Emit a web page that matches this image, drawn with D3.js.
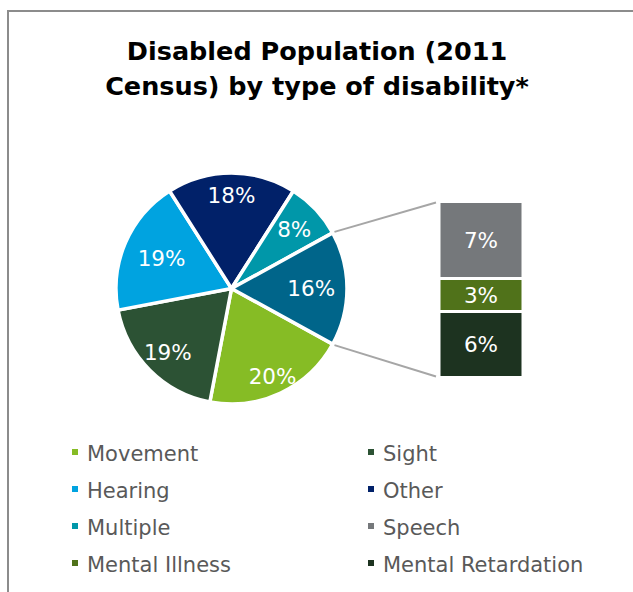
<!DOCTYPE html>
<html>
<head>
<meta charset="utf-8">
<script src="https://cdn.jsdelivr.net/npm/d3@7"></script>
<style>
  html, body { margin: 0; padding: 0; background: #fff; }
  svg { display: block; }
</style>
</head>
<body>
<svg id="chart" width="633" height="592"></svg>
<script>
// Disability types shown as pie slices (percent of disabled population)
const pieCategories = ["Movement", "Sight", "Hearing", "Other", "Multiple"];
const pieValues = [20, 19, 19, 18, 8];
const pieColors = ["#86BC25", "#2C5234", "#00A3E0", "#012169", "#0097A9"];

// Smaller types broken out into the stacked bar
const barCategories = ["Speech", "Mental Illness", "Mental Retardation"];
const barValues = [7, 3, 6];
const barColors = ["#75787B", "#50721A", "#1D3320"];

// Colour of the pie slice that gathers the bar types together
const groupColor = "#00658A";

// Legend order (two columns, row by row)
const legendItems = ["Movement", "Sight", "Hearing", "Other", "Multiple", "Speech", "Mental Illness", "Mental Retardation"];

const titleLines = ["Disabled Population (2011", "Census) by type of disability*"];

// Radial placement of each slice label, as a fraction of the radius
const labelRadius = [0.835, 0.78, 0.66, 0.81, 0.745, 0.69];

const svg = d3.select("#chart");
const FONT = "'DejaVu Sans', Verdana, sans-serif";

// Chart frame
svg.append("rect")
  .attr("x", 8).attr("y", 11)
  .attr("width", 800).attr("height", 800)
  .attr("fill", "none")
  .attr("stroke", "#8c8c8c")
  .attr("stroke-width", 2);

// Title
svg.append("g").selectAll("text")
  .data(titleLines)
  .join("text")
  .attr("x", 317)
  .attr("y", (d, i) => 60 + i * 35)
  .attr("text-anchor", "middle")
  .attr("font-family", FONT)
  .attr("font-weight", "bold")
  .attr("font-size", 25.5)
  .attr("fill", "#000")
  .text(d => d);

// Pie data: named slices plus one slice for the bar group
const groupTotal = d3.sum(barValues);
const slices = pieCategories.map((c, i) => ({ name: c, value: pieValues[i], color: pieColors[i] }))
  .concat([{ name: "group", value: groupTotal, color: groupColor }]);

const cx = 231.5, cy = 288.5, R = 115.5;
const total = d3.sum(slices, d => d.value);
// Rotate so that the grouped slice is centred on the right-hand side
const groupHalf = Math.PI * groupTotal / total;
const start = Math.PI / 2 + groupHalf;

const pie = d3.pie().sort(null).value(d => d.value)
  .startAngle(start).endAngle(start + 2 * Math.PI);
const arcs = pie(slices);
const arc = d3.arc().innerRadius(0).outerRadius(R);

const gPie = svg.append("g").attr("transform", `translate(${cx},${cy})`);
gPie.selectAll("path")
  .data(arcs)
  .join("path")
  .attr("d", arc)
  .attr("fill", d => d.data.color)
  .attr("stroke", "#fff")
  .attr("stroke-width", 3.5)
  .attr("stroke-linejoin", "round");

gPie.selectAll("text")
  .data(arcs)
  .join("text")
  .attr("transform", (d, i) => {
    const r = R * labelRadius[i];
    const a = (d.startAngle + d.endAngle) / 2;
    return `translate(${r * Math.sin(a)},${-r * Math.cos(a)})`;
  })
  .attr("text-anchor", "middle")
  .attr("dy", "0.36em")
  .attr("font-family", FONT)
  .attr("font-size", 21.5)
  .attr("fill", "#fff")
  .text(d => d.data.value + "%");

// Stacked bar for the grouped types
const barX = 439, barW = 84;
const y = d3.scaleLinear().domain([0, groupTotal]).range([201.5, 377.5]);
let acc = 0;
const barData = barCategories.map((c, i) => {
  const d = { name: c, value: barValues[i], color: barColors[i], y0: acc, y1: acc + barValues[i] };
  acc += barValues[i];
  return d;
});

// Connector lines from the grouped slice to the bar
const grp = arcs[arcs.length - 1];
const p0 = [cx + (R + 2) * Math.sin(grp.startAngle), cy - (R + 2) * Math.cos(grp.startAngle)];
const p1 = [cx + (R + 2) * Math.sin(grp.endAngle), cy - (R + 2) * Math.cos(grp.endAngle)];
svg.append("g")
  .selectAll("line")
  .data([[p0, [barX - 3, y(0) + 1]], [p1, [barX - 3, y(groupTotal) - 1]]])
  .join("line")
  .attr("x1", d => d[0][0]).attr("y1", d => d[0][1])
  .attr("x2", d => d[1][0]).attr("y2", d => d[1][1])
  .attr("stroke", "#a6a6a6")
  .attr("stroke-width", 2);

const gBar = svg.append("g");
gBar.selectAll("rect")
  .data(barData)
  .join("rect")
  .attr("x", barX)
  .attr("y", d => y(d.y0))
  .attr("width", barW)
  .attr("height", d => y(d.y1) - y(d.y0))
  .attr("fill", d => d.color)
  .attr("stroke", "#fff")
  .attr("stroke-width", 3);

gBar.selectAll("text")
  .data(barData)
  .join("text")
  .attr("x", barX + barW / 2)
  .attr("y", d => (y(d.y0) + y(d.y1)) / 2)
  .attr("dy", "0.36em")
  .attr("text-anchor", "middle")
  .attr("font-family", FONT)
  .attr("font-size", 21.5)
  .attr("fill", "#fff")
  .text(d => d.value + "%");

// Legend
const colorOf = {};
pieCategories.forEach((c, i) => colorOf[c] = pieColors[i]);
barCategories.forEach((c, i) => colorOf[c] = barColors[i]);

const legend = svg.append("g")
  .selectAll("g")
  .data(legendItems)
  .join("g")
  .attr("transform", (d, i) => `translate(${i % 2 === 0 ? 72 : 368},${461 + Math.floor(i / 2) * 37})`);

legend.append("rect")
  .attr("x", 0).attr("y", -12)
  .attr("width", 6).attr("height", 6)
  .attr("fill", d => colorOf[d]);

legend.append("text")
  .attr("x", 15)
  .attr("y", 0)
  .attr("font-family", FONT)
  .attr("font-size", 21)
  .attr("fill", "#595959")
  .text(d => d);
</script>
</body>
</html>
